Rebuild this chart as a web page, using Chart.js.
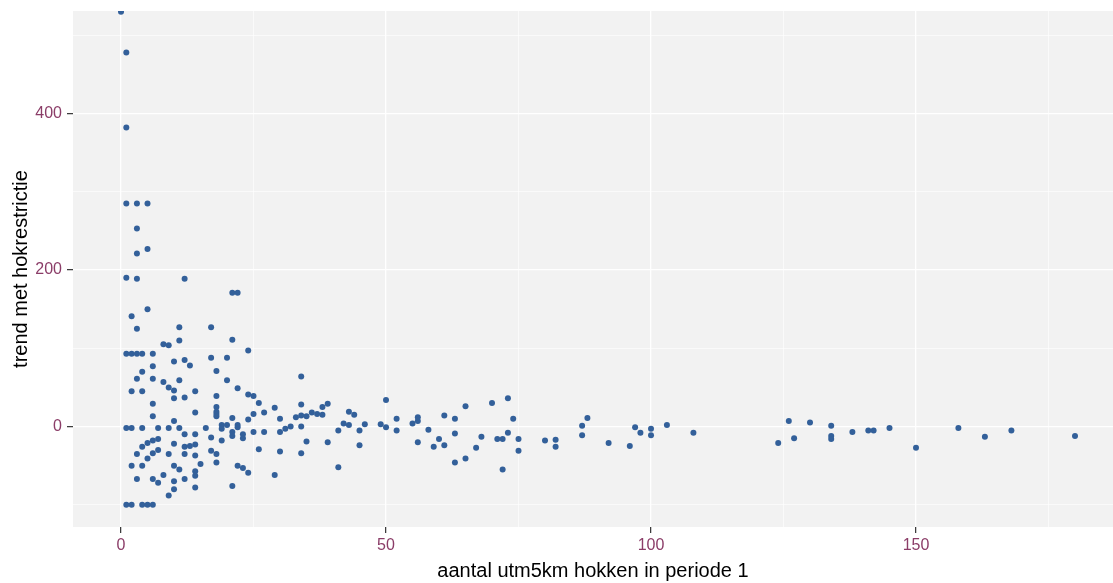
<!DOCTYPE html>
<html>
<head>
<meta charset="utf-8">
<script src="https://cdn.jsdelivr.net/npm/chart.js@4/dist/chart.umd.min.js"></script>
<style>
  html, body { margin: 0; padding: 0; background: #ffffff; }
  canvas { display: block; }
</style>
</head>
<body>
<canvas id="plot" width="1113" height="583"></canvas>
<script>
// number of utm5km squares occupied in period 1 (x) and the trend with square restriction (y)
const hokkenPeriode1 = [
  0, 1, 1, 1, 3, 5, 3, 5, 3, 1, 3, 12, 21, 22,
  5, 2, 3, 11, 17, 21, 8, 9, 11,
  1, 2, 3, 4, 6, 24,
  10, 12, 13, 17, 20, 6, 4, 18,
  3, 6, 11, 20, 8, 9, 10, 22, 2, 4, 14,
  10, 12, 18, 24, 25, 34, 26, 6, 29,
  18, 18, 18, 18, 14, 27, 25, 34, 6, 21, 24, 30,
  33, 34, 35, 10,
  1, 2, 4, 7, 9, 11, 16,
  19, 20, 19, 22, 22, 21, 23, 23, 21,
  25, 27, 30, 31, 32, 34, 12, 14,
  10, 12, 13, 14, 17, 19,
  7, 6, 5, 4, 35,
  3, 5, 6, 7, 9, 12, 14, 17, 18,
  26, 30, 34,
  15, 18, 2, 4, 10, 11, 22, 23, 24, 29,
  14, 14, 3, 6, 7, 8, 10, 10, 12, 14, 21, 9,
  1, 2, 4, 5, 6,
  36, 37, 38, 38, 39, 39, 41, 41, 42, 43, 43, 44, 45, 45, 46, 49, 50, 50,
  52, 52, 55, 56, 56, 56, 58, 59, 60, 61, 61, 63, 63, 63, 65, 65, 67, 68,
  70, 71, 72, 72, 73, 73, 74, 75, 75, 80,
  82, 82, 87, 87, 88, 92, 96, 97, 98, 100, 100, 103, 108,
  124, 126, 127, 130, 134, 134, 134, 138, 141, 142, 145, 150, 158, 163, 168, 180
];
const trendHokrestrictie = [
  530, 478, 382, 285, 285, 285, 253, 227, 221, 190, 189, 189, 171, 171,
  150, 141, 125, 127, 127, 111, 105, 104, 110,
  93, 93, 93, 93, 93, 97,
  83, 85, 78, 88, 88, 77, 70, 71,
  61, 61, 59, 59, 57, 50, 46, 49, 45, 45, 45,
  36, 37, 39, 41, 39, 64, 30, 29, 24,
  25, 19, 16, 13, 18, 18, 16, 28, 13, 11, 9, 10,
  12, 14, 13, 7,
  -2, -2, -2, -2, -2, -2, -2,
  2, 2, -3, 2, -1, -7, -10, -15, -12,
  -7, -7, -7, -3, 0, 0, -10, -10,
  -22, -26, -25, -23, -14, -18,
  -16, -18, -21, -26, -19,
  -35, -41, -34, -30, -35, -35, -37, -31, -35,
  -29, -32, -34,
  -48, -46, -50, -50, -50, -55, -50, -53, -59, -62,
  -57, -63, -67, -67, -72, -62, -70, -80, -67, -78, -76, -88,
  -100, -100, -100, -100, -100,
  18, 16, 15, 25, 29, -20, -5, -52, 4, 2, 19, 15, -5, -24, 3, 3, -1, 34,
  10, -5, 4, 7, 12, -20, -4, -26, -16, -24, 14, 10, -9, -46, 26, -41, -27, -13,
  30, -16, -16, -55, 36, -8, 10, -16, -31, -18,
  -17, -26, 1, -11, 11, -21, -25, -1, -8, -3, -11, 2, -8,
  -21, 7, -15, 5, 1, -12, -16, -7, -5, -5, -2, -27, -2, -13, -5, -12
];

// axis breaks: labelled major breaks and unlabelled minor breaks
const xMajorTicks = [0, 50, 100, 150];
const xMinorTicks = [25, 75, 125, 175];
const yMajorTicks = [0, 200, 400];
const yMinorTicks = [-100, 100, 300, 500];

const xTitle = 'aantal utm5km hokken in periode 1';
const yTitle = 'trend met hokrestrictie';

const punten = hokkenPeriode1.map((x, i) => ({ x: x, y: trendHokrestrictie[i] }));

const tickColour = '#8B3D68';
const fontFamily = "'Liberation Sans', Arial, sans-serif";

function isMajor(list, ctx) {
  return ctx.tick && list.includes(ctx.tick.value);
}

// fixed axis boxes, without the extra room Chart.js keeps for edge labels
function fixBox(size, horizontal) {
  return function (scale) {
    if (horizontal) scale.height = size; else scale.width = size;
    scale.paddingTop = 0;
    scale.paddingBottom = 0;
    scale.paddingLeft = 0;
    scale.paddingRight = 0;
  };
}

const panelBackground = {
  id: 'panelBackground',
  beforeDraw(chart) {
    const { ctx, chartArea: a } = chart;
    ctx.save();
    ctx.fillStyle = '#ffffff';
    ctx.fillRect(0, 0, chart.width, chart.height);
    ctx.fillStyle = '#F2F2F2';
    ctx.fillRect(a.left, a.top, a.right - a.left, a.bottom - a.top);
    ctx.restore();
  }
};

new Chart(document.getElementById('plot'), {
  type: 'scatter',
  data: {
    datasets: [{
      data: punten,
      backgroundColor: '#33609A',
      borderWidth: 0,
      pointRadius: 3,
      pointHoverRadius: 3,
      clip: 0
    }]
  },
  options: {
    responsive: false,
    animation: false,
    devicePixelRatio: 1,
    layout: {
      autoPadding: false,
      padding: { top: 11, right: 0, bottom: 0, left: 0 }
    },
    plugins: {
      legend: { display: false },
      tooltip: { enabled: false },
      title: { display: false }
    },
    scales: {
      x: {
        type: 'linear',
        min: -9.06,
        max: 187.17,
        afterFit: fixBox(56, true),
        afterBuildTicks(scale) {
          scale.ticks = xMajorTicks.concat(xMinorTicks).sort((a, b) => a - b).map(v => ({ value: v }));
        },
        border: { display: false },
        grid: {
          color: '#ffffff',
          lineWidth: ctx => isMajor(xMajorTicks, ctx) ? 1.3 : 0.6,
          drawTicks: true,
          tickLength: 6,
          tickWidth: 1.2,
          tickColor: ctx => isMajor(xMajorTicks, ctx) ? '#333333' : 'rgba(0,0,0,0)'
        },
        ticks: {
          autoSkip: false,
          maxRotation: 0,
          padding: 3,
          color: tickColour,
          font: { family: fontFamily, size: 16 },
          callback: v => xMajorTicks.includes(v) ? String(v) : ''
        },
        title: {
          display: true,
          text: xTitle,
          color: '#000000',
          font: { family: fontFamily, size: 20 },
          padding: { top: 0, bottom: 0 }
        }
      },
      y: {
        type: 'linear',
        min: -128.4,
        max: 531.0,
        afterFit: fixBox(73, false),
        afterBuildTicks(scale) {
          scale.ticks = yMinorTicks.concat(yMajorTicks).sort((a, b) => a - b).map(v => ({ value: v }));
        },
        border: { display: false },
        grid: {
          color: '#ffffff',
          lineWidth: ctx => isMajor(yMajorTicks, ctx) ? 1.3 : 0.6,
          drawTicks: true,
          tickLength: 6,
          tickWidth: 1.2,
          tickColor: ctx => isMajor(yMajorTicks, ctx) ? '#333333' : 'rgba(0,0,0,0)'
        },
        ticks: {
          autoSkip: false,
          padding: 5,
          color: tickColour,
          font: { family: fontFamily, size: 16 },
          callback: v => yMajorTicks.includes(v) ? String(v) : ''
        },
        title: {
          display: true,
          text: yTitle,
          color: '#000000',
          font: { family: fontFamily, size: 20 },
          padding: { top: 9, bottom: 0 }
        }
      }
    }
  },
  plugins: [panelBackground]
});
</script>
</body>
</html>
